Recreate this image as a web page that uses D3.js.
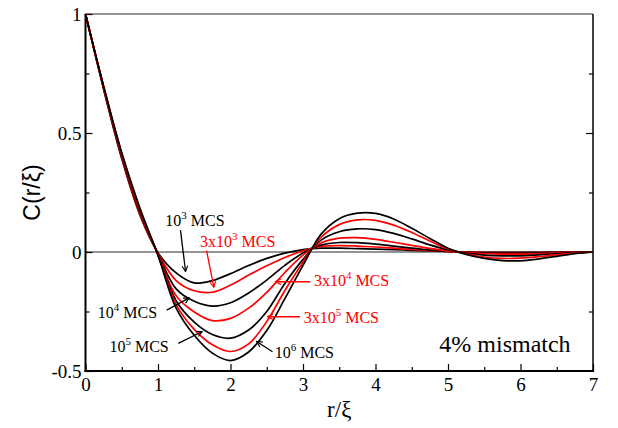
<!DOCTYPE html>
<html>
<head>
<meta charset="utf-8">
<script src="https://cdn.jsdelivr.net/npm/d3@7"></script>
<style>
  body { margin: 0; background: #fff; }
  svg { display: block; }
  svg text { font-family: "Liberation Serif", "Times New Roman", Times, serif; }
  svg text.sans { font-family: "Liberation Sans", Arial, sans-serif; }
</style>
</head>
<body>
<svg id="chart" width="618" height="428"></svg>
<script>
// r/xi sample points
const rVals = [0, 0.25, 0.5, 0.75, 1, 1.25, 1.5, 1.75, 2, 2.25, 2.5, 2.75, 3, 3.25, 3.5,
  3.75, 4, 4.25, 4.5, 4.75, 5, 5.25, 5.5, 5.75, 6, 6.25, 6.5, 6.75, 7];

// C(r/xi) for each time
const c1e3 = [1, 0.684, 0.392, 0.156, -0.003, -0.088, -0.130, -0.120, -0.091, -0.057, -0.027, -0.005, 0.010, 0.016, 0.016,
  0.014, 0.012, 0.010, 0.007, 0.005, 0.002, 0.000, -0.001, -0.001, -0.001, -0.001, 0, 0, 0];
const c3e3 = [1, 0.687, 0.397, 0.160, -0.005, -0.120, -0.163, -0.169, -0.139, -0.097, -0.058, -0.023, 0.005, 0.023, 0.027,
  0.025, 0.021, 0.016, 0.011, 0.006, 0.002, -0.001, -0.002, -0.003, -0.002, -0.002, -0.001, 0, 0];
const c1e4 = [1, 0.689, 0.401, 0.166, -0.007, -0.155, -0.207, -0.227, -0.213, -0.172, -0.118, -0.056, -0.004, 0.029, 0.040,
  0.039, 0.033, 0.025, 0.016, 0.008, 0.002, -0.002, -0.004, -0.005, -0.005, -0.004, -0.002, -0.001, 0];
const c3e4 = [1, 0.691, 0.405, 0.171, -0.009, -0.184, -0.252, -0.288, -0.279, -0.236, -0.170, -0.086, -0.013, 0.038, 0.058,
  0.060, 0.053, 0.041, 0.028, 0.015, 0.004, -0.003, -0.007, -0.009, -0.009, -0.007, -0.004, -0.002, 0];
const c1e5 = [1, 0.693, 0.409, 0.176, -0.011, -0.205, -0.295, -0.347, -0.362, -0.328, -0.250, -0.132, -0.031, 0.050, 0.085,
  0.097, 0.094, 0.078, 0.055, 0.030, 0.009, -0.005, -0.013, -0.016, -0.016, -0.012, -0.007, -0.003, 0];
const c3e5 = [1, 0.695, 0.413, 0.180, -0.013, -0.221, -0.325, -0.390, -0.418, -0.386, -0.292, -0.162, -0.043, 0.062, 0.115,
  0.135, 0.133, 0.113, 0.082, 0.046, 0.013, -0.008, -0.021, -0.027, -0.026, -0.020, -0.012, -0.005, 0];
const c1e6 = [1, 0.697, 0.417, 0.185, -0.015, -0.236, -0.350, -0.425, -0.456, -0.420, -0.330, -0.196, -0.056, 0.075, 0.140,
  0.163, 0.162, 0.139, 0.100, 0.057, 0.016, -0.010, -0.027, -0.036, -0.037, -0.029, -0.018, -0.007, 0];

const seriesNames = ["1e3", "3e3", "1e4", "3e4", "1e5", "3e5", "1e6"];
const seriesValues = [c1e3, c3e3, c1e4, c3e4, c1e5, c3e5, c1e6];
const seriesColors = ["#000", "#f00", "#000", "#f00", "#000", "#f00", "#000"];

const xMajorTicks = [0, 1, 2, 3, 4, 5, 6, 7];
const xMinorTicks = [0.5, 1.5, 2.5, 3.5, 4.5, 5.5, 6.5];
const yMajorTicks = [-0.5, 0, 0.5, 1];
const yMinorTicks = [-0.25, 0.25, 0.75];

// labels, arrow tail/tip in data units
const labels = [
  { pre: "", base: "10", exp: "3", color: "#000", at: [1.10, 0.108], tail: [1.31, 0.092], tip: [1.38, -0.082] },
  { pre: "3x", base: "10", exp: "3", color: "#f00", at: [1.58, 0.020], tail: [1.67, 0.006], tip: [1.77, -0.148] },
  { pre: "", base: "10", exp: "4", color: "#000", at: [0.17, -0.277], tail: [1.12, -0.244], tip: [1.43, -0.193] },
  { pre: "3x", base: "10", exp: "4", color: "#f00", at: [3.15, -0.143], tail: [3.10, -0.125], tip: [2.62, -0.125] },
  { pre: "", base: "10", exp: "5", color: "#000", at: [0.33, -0.420], tail: [1.28, -0.384], tip: [1.61, -0.334] },
  { pre: "3x", base: "10", exp: "5", color: "#f00", at: [3.01, -0.298], tail: [2.96, -0.272], tip: [2.51, -0.272] },
  { pre: "", base: "10", exp: "6", color: "#000", at: [2.61, -0.445], tail: [2.58, -0.419], tip: [2.36, -0.376] }
];

const svg = d3.select("#chart");
const width = +svg.attr("width");
const height = +svg.attr("height");
const margin = { top: 14, right: 25, bottom: 57, left: 85.5 };

const x = d3.scaleLinear().domain([0, 7]).range([margin.left, width - margin.right]);
const y = d3.scaleLinear().domain([-0.5, 1]).range([height - margin.bottom, margin.top]);

svg.append("rect").attr("width", width).attr("height", height).attr("fill", "#fff");

// zero line and top line (gray)
svg.append("line")
  .attr("x1", x(0)).attr("x2", x(7)).attr("y1", y(0)).attr("y2", y(0))
  .attr("stroke", "#707070").attr("stroke-width", 1.5);
svg.append("line")
  .attr("x1", x(0)).attr("x2", x(7)).attr("y1", y(1)).attr("y2", y(1))
  .attr("stroke", "#707070").attr("stroke-width", 1.5);

// axes
const axisStyle = g => {
  g.attr("font-size", 19);
  g.select(".domain").remove();
  g.selectAll(".tick line").attr("stroke", "#000").attr("stroke-width", 1.2);
  g.selectAll(".tick text").attr("fill", "#000");
};

svg.append("g")
  .attr("transform", `translate(0,${y(-0.5)})`)
  .call(d3.axisBottom(x).tickValues(xMajorTicks).tickSize(-7).tickPadding(7).tickFormat(d => String(d)))
  .call(axisStyle);
svg.append("g")
  .attr("transform", `translate(0,${y(-0.5)})`)
  .call(d3.axisBottom(x).tickValues(xMinorTicks).tickSize(-4).tickFormat(""))
  .call(axisStyle);

svg.append("g")
  .attr("transform", `translate(${x(0)},0)`)
  .call(d3.axisLeft(y).tickValues(yMajorTicks).tickSize(-7).tickPadding(4).tickFormat(d => String(d)))
  .call(axisStyle);
svg.append("g")
  .attr("transform", `translate(${x(0)},0)`)
  .call(d3.axisLeft(y).tickValues(yMinorTicks).tickSize(-4).tickFormat(""))
  .call(axisStyle);

svg.append("g")
  .attr("transform", `translate(${x(7)},0)`)
  .call(d3.axisRight(y).tickValues(yMajorTicks.filter(d => d > -0.5 && d < 1)).tickSize(-7).tickFormat(""))
  .call(axisStyle);
svg.append("g")
  .attr("transform", `translate(${x(7)},0)`)
  .call(d3.axisRight(y).tickValues(yMinorTicks).tickSize(-4).tickFormat(""))
  .call(axisStyle);

// spines
svg.append("line")
  .attr("x1", x(0)).attr("x2", x(0)).attr("y1", y(1)).attr("y2", y(-0.5) + 1)
  .attr("stroke", "#000").attr("stroke-width", 2);
svg.append("line")
  .attr("x1", x(0) - 1).attr("x2", x(7) + 1).attr("y1", y(-0.5)).attr("y2", y(-0.5))
  .attr("stroke", "#000").attr("stroke-width", 2);
svg.append("line")
  .attr("x1", x(7)).attr("x2", x(7)).attr("y1", y(1)).attr("y2", y(-0.5))
  .attr("stroke", "#000").attr("stroke-width", 1.5);

// curves
const line = d3.line()
  .x((d, i) => x(rVals[i]))
  .y(d => y(d))
  .curve(d3.curveCatmullRom.alpha(0.5));

svg.append("g")
  .selectAll("path")
  .data(seriesValues)
  .join("path")
  .attr("class", (d, i) => "curve c" + seriesNames[i])
  .attr("d", line)
  .attr("fill", "none")
  .attr("stroke", (d, i) => seriesColors[i])
  .attr("stroke-width", 1.7)
  .attr("stroke-linejoin", "round");

// arrow markers
const defs = svg.append("defs");
["#000", "#f00"].forEach((c, i) => {
  defs.append("marker")
    .attr("id", "arrow" + i)
    .attr("viewBox", "0 0 10 10")
    .attr("refX", 9).attr("refY", 5)
    .attr("markerWidth", 7).attr("markerHeight", 7)
    .attr("markerUnits", "userSpaceOnUse")
    .attr("orient", "auto")
    .append("path")
    .attr("d", "M1,1 L9,5 L1,9")
    .attr("fill", "none")
    .attr("stroke", c)
    .attr("stroke-width", 1.6);
});

// annotations
const ann = svg.append("g");
labels.forEach(l => {
  ann.append("line")
    .attr("x1", x(l.tail[0])).attr("y1", y(l.tail[1]))
    .attr("x2", x(l.tip[0])).attr("y2", y(l.tip[1]))
    .attr("stroke", l.color).attr("stroke-width", 1.3)
    .attr("marker-end", `url(#arrow${l.color === "#f00" ? 1 : 0})`);
  const t = ann.append("text")
    .attr("x", x(l.at[0])).attr("y", y(l.at[1]))
    .attr("font-size", 16)
    .attr("fill", l.color);
  t.append("tspan").text(l.pre + l.base);
  t.append("tspan").attr("font-size", 11).attr("dy", -7).text(l.exp);
  t.append("tspan").attr("dy", 7).text(" MCS");
});

ann.append("text")
  .attr("x", x(4.88)).attr("y", y(-0.42))
  .attr("font-size", 24)
  .text("4% mismatch");

// axis titles
svg.append("text")
  .attr("x", (x(0) + x(7)) / 2).attr("y", 417)
  .attr("text-anchor", "middle")
  .attr("font-size", 23)
  .text("r/ξ");

svg.append("text")
  .attr("class", "sans")
  .attr("transform", `translate(40,${(y(1) + y(-0.5)) / 2}) rotate(-90)`)
  .attr("text-anchor", "middle")
  .attr("font-size", 23)
  .text("C(r/ξ)");
</script>
</body>
</html>
